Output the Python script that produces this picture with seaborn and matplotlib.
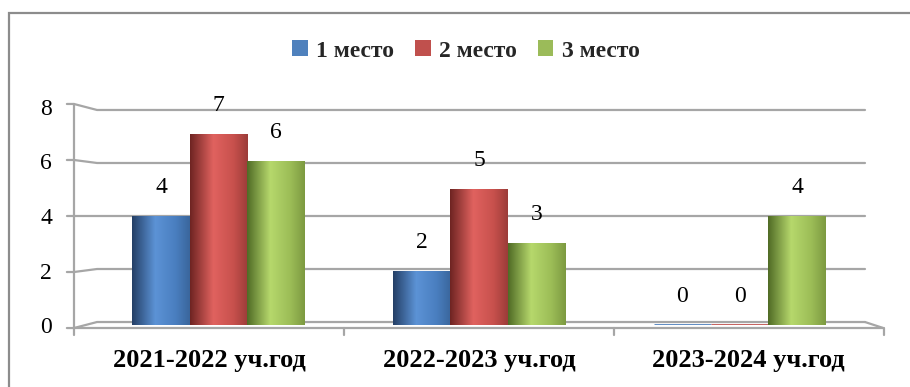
import numpy as np
import pandas as pd
import matplotlib
matplotlib.use("Agg")
import matplotlib.pyplot as plt
from matplotlib.colors import LinearSegmentedColormap
from matplotlib.patches import Patch, Rectangle
import seaborn as sns

# ── data ─────────────────────────────────────
years  = ["2021-2022 уч.год", "2022-2023 уч.год", "2023-2024 уч.год"]
places = ["1 место", "2 место", "3 место"]
first  = [4, 2, 0]
second = [7, 5, 0]
third  = [6, 3, 4]
yticks = [0, 2, 4, 6, 8]

# base / dark / light / right-side tones for the cylinder shading
base_colors  = ["#4F81BD", "#C0504D", "#9BBB59"]
shade_colors = [
    ["#243f66", "#5c93d6", "#4a7fc0", "#3a669c"],
    ["#6e2422", "#e0625f", "#c8514d", "#9c3c39"],
    ["#506b26", "#b6d86c", "#9cbd57", "#7d9a41"],
]
GRID = "#a6a6a6"

df = pd.DataFrame({
    "year":  years * 3,
    "place": np.repeat(places, len(years)),
    "count": first + second + third,
})

sns.set_theme(style="white")
plt.rcParams["font.family"] = ["Liberation Serif", "DejaVu Serif"]

fig = plt.figure(figsize=(9.10, 3.87), dpi=100)
ax = fig.add_axes([88 / 910, 1 - 325.3 / 387, 782 / 910, 218.6 / 387])

sns.barplot(data=df, x="year", y="count", hue="place", palette=base_colors,
            width=0.66, gap=0, legend=False, ax=ax, zorder=3)

ax.set_ylim(0, 8)
ax.set_xlim(-0.5, 2.5)
for s in ax.spines.values():
    s.set_visible(False)
ax.set_xlabel("")
ax.set_ylabel("")

# ── pseudo-3D walls: back gridlines, tick stubs, floor ──
yx = ax.get_yaxis_transform()
front = lambda v: 4 + (v - 4) * 1.025
back  = lambda v: 4 + (v - 4) * 0.97
for v in yticks:
    ax.plot([-0.027, -0.018, 0.0115, 0.9936],
            [front(v), front(v), back(v), back(v)],
            transform=yx, color=GRID, lw=1.6, clip_on=False, zorder=1)
f0 = front(0)
ax.plot([0.9936, 1.017], [back(0), f0], transform=yx, color=GRID, lw=1.6,
        clip_on=False, zorder=1)
ax.plot([-0.018, 1.017], [f0, f0], transform=yx, color=GRID, lw=1.6,
        clip_on=False, zorder=4)
ax.plot([-0.018, -0.018], [front(8), f0 - 0.25], transform=yx, color=GRID,
        lw=1.6, clip_on=False, zorder=4)
for b in [0.5, 1.5, 2.5]:
    bx = 1 + (b - 1) * 1.035
    ax.plot([bx, bx], [f0, f0 - 0.25], color=GRID, lw=1.6, clip_on=False, zorder=4)

# ── cylinder-like gradient on every bar ──────
for cont, shades, base in zip(ax.containers, shade_colors, base_colors):
    cmap = LinearSegmentedColormap.from_list(
        "cyl", list(zip([0, 0.4, 0.75, 1], shades)))
    grad = np.linspace(0, 1, 128).reshape(1, -1)
    for p in cont.patches:
        x0, w, h = p.get_x(), p.get_width(), p.get_height()
        if h == 0:
            p.set_edgecolor(base)
            p.set_linewidth(2)
            continue
        p.set_linewidth(0)
        im = ax.imshow(grad, cmap=cmap, aspect="auto", extent=(x0, x0 + w, 0, h),
                       zorder=3.5)
        im.set_clip_path(p)
    ax.bar_label(cont, padding=13, fontsize=17, color="black")
ax.set_xlim(-0.5, 2.5)
ax.set_ylim(0, 8)

# ── ticks ────────────────────────────────────
ax.set_yticks(yticks)
ax.set_xticks([1 + (c - 1) * 1.035 for c in range(3)])
ax.set_xticklabels(years, fontsize=19, fontweight="bold")
ax.tick_params(axis="y", length=0, pad=26, labelsize=17, labelcolor="black")
ax.tick_params(axis="x", length=0, pad=17, labelcolor="black")

# ── legend ───────────────────────────────────
handles = [Patch(facecolor=c, edgecolor="none", label=l) for c, l in zip(base_colors, places)]
fig.legend(handles=handles, loc="center", bbox_to_anchor=(466 / 910, 1 - 51 / 387),
           ncol=3, frameon=False, handlelength=0.65, handleheight=0.65,
           handletextpad=0.35, columnspacing=0.9,
           prop={"family": "Liberation Serif", "weight": "bold", "size": 17})

# ── outer border ─────────────────────────────
fig.patches.append(Rectangle((9 / 910, -0.1), 1.2, 1.1 - 13 / 387,
                             transform=fig.transFigure, fill=False,
                             edgecolor="#8c8c8c", lw=1.6))

fig.savefig("out.png", dpi=100)
